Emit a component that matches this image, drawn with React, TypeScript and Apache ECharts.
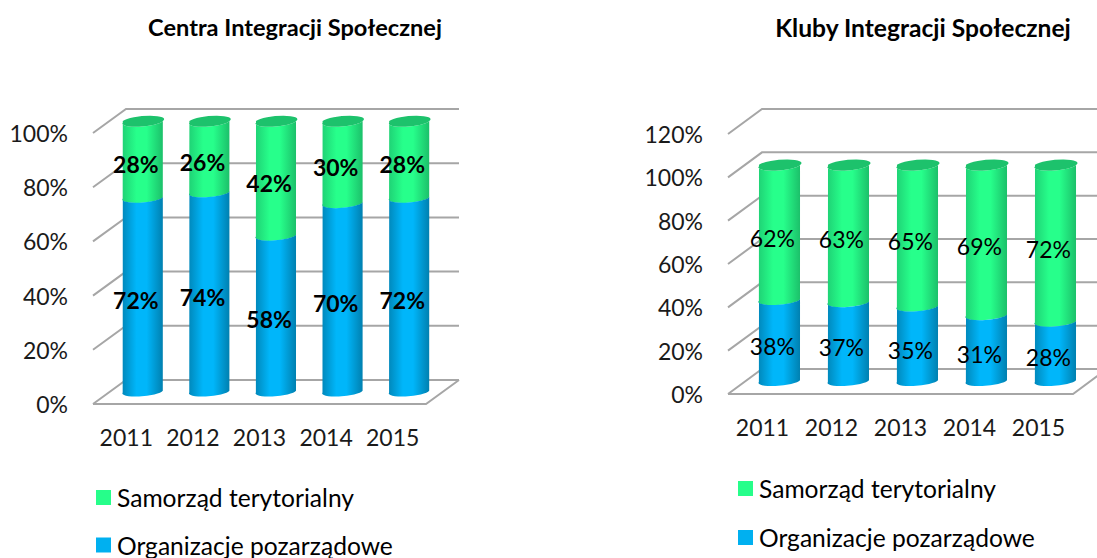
import React, { useEffect, useRef } from "react";
import * as echarts from "echarts";

const categories = ["2011", "2012", "2013", "2014", "2015"];
const ngoName = "Organizacje pozarządowe";
const localName = "Samorząd terytorialny";
const legendNames = [localName, ngoName];

const leftTitle = "Centra Integracji Społecznej";
const leftNgo = [72, 74, 58, 70, 72];
const leftLocal = [28, 26, 42, 30, 28];
const leftTicks = [0, 20, 40, 60, 80, 100];

const rightTitle = "Kluby Integracji Społecznej";
const rightNgo = [38, 37, 35, 31, 28];
const rightLocal = [62, 63, 65, 69, 72];
const rightTicks = [0, 20, 40, 60, 80, 100, 120];

const FONT = "Lato, Carlito, Calibri, sans-serif";
const BLUE = "#00b0f0";
const GREEN = "#26fe8a";
const BLUE_STOPS = ["#0088bb", "#00b6fa", "#00b6fa", "#0080b0"];
const GREEN_STOPS = ["#1fd275", "#27ff8b", "#27ff8b", "#1cc06a"];
const GREEN_TOP = "#1dc26c";
const WALL = "#a6a6a6";

function gradient(stops: string[]) {
  return new echarts.graphic.LinearGradient(0, 0, 1, 0, [
    { offset: 0, color: stops[0] },
    { offset: 0.35, color: stops[1] },
    { offset: 0.6, color: stops[2] },
    { offset: 1, color: stops[3] },
  ]);
}

function wallSeries(ticks: number[], idx: number, dx: number, dy: number) {
  return {
    type: "custom",
    name: "wall" + idx,
    xAxisIndex: idx,
    yAxisIndex: idx,
    silent: true,
    z: 1,
    data: ticks.map((t) => [0, t]),
    encode: { x: 0, y: 1 },
    renderItem: (_: any, api: any) => {
      const band = api.size([1, 0])[0];
      const p = api.coord([0, api.value(1)]);
      const fx = p[0] - band / 2;
      const fy = p[1];
      const width = band * categories.length;
      const style = { stroke: WALL, lineWidth: 2, fill: "none" };
      const children: any[] = [
        {
          type: "polyline",
          shape: { points: [[fx, fy], [fx + dx, fy + dy], [fx + dx + width, fy + dy]] },
          style,
        },
      ];
      if (api.value(1) === 0) {
        children.push({
          type: "polyline",
          shape: { points: [[fx, fy], [fx + width, fy], [fx + width + dx, fy + dy]] },
          style,
        });
      }
      return { type: "group", children };
    },
  };
}

function cylinderSeries(
  name: string,
  values: number[],
  bases: number[],
  idx: number,
  color: string,
  stops: string[],
  capped: boolean,
  bold: boolean,
  dx: number,
  dy: number,
  barW: number,
  labelSize: number
) {
  return {
    type: "custom",
    name,
    xAxisIndex: idx,
    yAxisIndex: idx,
    silent: true,
    z: capped ? 3 : 4,
    itemStyle: { color },
    data: values.map((v, i) => [i, bases[i], bases[i] + v, v]),
    encode: { x: 0, y: [1, 2] },
    renderItem: (_: any, api: any) => {
      const i = api.value(0);
      const lo = api.coord([i, api.value(1)]);
      const hi = api.coord([i, api.value(2)]);
      const cx = lo[0] + dx / 2;
      // the upper segment runs slightly under the lower one, so that no seam shows
      const yb = lo[1] + dy / 2 + (capped ? 2 : 0.5);
      const yt = hi[1] + dy / 2;
      const l = cx - barW / 2;
      const r = cx + barW / 2;
      const t = 1.7;
      const rx = barW / 2 + 0.2;
      const ry = 4.6;
      const rot = -5;
      const d =
        `M${l} ${yt + t} A${rx} ${ry} ${rot} 0 0 ${r} ${yt - t} ` +
        `L${r} ${yb - t} A${rx} ${ry} ${rot} 0 1 ${l} ${yb + t} Z`;
      const children: any[] = [
        { type: "path", shape: { pathData: d }, style: { fill: gradient(stops) } },
      ];
      if (capped) {
        const cap =
          `M${l} ${yt + t} A${rx} ${ry} ${rot} 0 0 ${r} ${yt - t} ` +
          `A${rx} ${ry} ${rot} 0 0 ${l} ${yt + t} Z`;
        children.push({ type: "path", shape: { pathData: cap }, style: { fill: GREEN_TOP } });
      }
      children.push({
        type: "text",
        z2: 10,
        style: {
          x: lo[0] + dx * 0.29,
          y: (lo[1] + hi[1]) / 2 - 6.5,
          text: api.value(3) + "%",
          fill: "#000",
          font: `${bold ? "bold " : ""}${labelSize}px ${FONT}`,
          align: "center",
          verticalAlign: "middle",
        },
      });
      return { type: "group", children };
    },
  };
}

export default function App() {
  const ref = useRef<HTMLDivElement>(null);
  useEffect(() => {
    const chart = echarts.init(ref.current!, undefined, { renderer: "svg" });
    const axisLabel = { color: "#1a1a1a", fontFamily: FONT, fontSize: 23 };
    const title = (text: string, x: number, size: number) => ({
      text,
      left: x,
      top: 10,
      textAlign: "center",
      textStyle: { fontFamily: FONT, fontSize: size, fontWeight: "bold", color: "#000" },
    });
    const legend = (left: number, top: number, gap: number) => ({
      orient: "vertical",
      left,
      top,
      height: 120,
      padding: 0,
      itemWidth: 15,
      itemHeight: 15,
      itemGap: gap,
      icon: "rect",
      selectedMode: false,
      data: legendNames,
      textStyle: {
        fontFamily: FONT,
        fontSize: 24.6,
        color: "#000",
        padding: [0, 0, 0, 1],
      },
    });
    const xAxis = (gridIndex: number) => ({
      type: "category",
      gridIndex,
      data: categories,
      axisLine: { show: false },
      axisTick: { show: false },
      axisLabel: { ...axisLabel, margin: 21, interval: 0 },
    });
    const yAxis = (gridIndex: number, max: number) => ({
      type: "value",
      gridIndex,
      min: 0,
      max,
      interval: 20,
      axisLine: { show: false },
      axisTick: { show: false },
      splitLine: { show: false },
      axisLabel: { ...axisLabel, margin: 25, formatter: "{value}%" },
    });
    chart.setOption({
      animation: false,
      backgroundColor: "#fff",
      title: [title(leftTitle, 290, 23.6), title(rightTitle, 918, 24.6)],
      legend: [legend(96, 485, 22.5), legend(738, 476, 24)],
      grid: [
        { left: 93, top: 133, width: 333, height: 271 },
        { left: 728, top: 134, width: 345, height: 260 },
      ],
      xAxis: [xAxis(0), xAxis(1)],
      yAxis: [yAxis(0, 100), yAxis(1, 120)],
      series: [
        wallSeries(leftTicks, 0, 33, -24),
        cylinderSeries(ngoName, leftNgo, leftNgo.map(() => 0), 0, BLUE, BLUE_STOPS, false, true, 33, -24, 40, 23),
        cylinderSeries(localName, leftLocal, leftNgo, 0, GREEN, GREEN_STOPS, true, true, 33, -24, 40, 23),
        wallSeries(rightTicks, 1, 34, -25),
        cylinderSeries(ngoName, rightNgo, rightNgo.map(() => 0), 1, BLUE, BLUE_STOPS, false, false, 34, -25, 41, 23),
        cylinderSeries(localName, rightLocal, rightNgo, 1, GREEN, GREEN_STOPS, true, false, 34, -25, 41, 23),
      ],
    });
    return () => chart.dispose();
  }, []);
  return (
    <div
      ref={ref}
      style={{ position: "fixed", left: 0, top: 0, width: 1097, height: 558, background: "#fff" }}
    />
  );
}
